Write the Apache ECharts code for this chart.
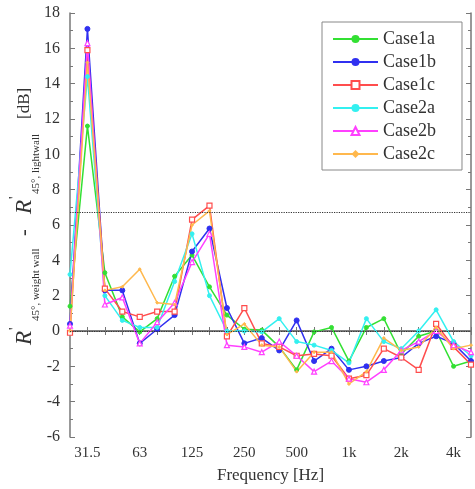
<!DOCTYPE html>
<html>
<head>
<meta charset="utf-8">
<script src="https://cdn.jsdelivr.net/npm/echarts@6/dist/echarts.min.js"></script>
<style>html,body{margin:0;padding:0;background:#fff}#c{width:475px;height:489px}</style>
</head>
<body>
<div id="c"></div>
<script>
const freqs = ['25','31.5','40','50','63','80','100','125','160','200','250','315','400','500','630','800','1k','1.25k','1.6k','2k','2.5k','3.15k','4k','5k'];
const shownTicks = ['31.5','63','125','250','500','1k','2k','4k'];
const yTicks = { min: -6, max: 18, step: 2 };
const refLines = [6.7, 0];

const case1a = [1.4, 11.6, 3.3, 0.8, -0.05, 0.7, 3.1, 4.3, 2.5, 0.9, 0.1, 0.05, -0.9, -2.2, -0.05, 0.2, -1.7, 0.2, 0.7, -1.3, -0.3, 0.0, -2.0, -1.7];
const case1b = [0.4, 17.1, 2.3, 2.3, -0.7, 0.1, 0.9, 4.5, 5.8, 1.3, -0.7, -0.4, -1.1, 0.6, -1.7, -1.0, -2.2, -2.0, -1.7, -1.5, -0.7, -0.3, -0.7, -1.7];
const case1c = [-0.1, 15.9, 2.4, 1.1, 0.8, 1.1, 1.1, 6.3, 7.1, -0.3, 1.3, -0.7, -0.9, -1.4, -1.3, -1.4, -2.7, -2.5, -1.0, -1.5, -2.2, 0.4, -0.9, -1.9];
const case2a = [3.2, 14.4, 2.0, 0.6, 0.2, 0.2, 2.8, 5.5, 2.0, 0.0, 0.0, -0.05, 0.7, -0.6, -0.8, -1.1, -1.8, 0.7, -0.6, -1.0, 0.0, 1.2, -0.6, -1.4];
const case2b = [0.3, 16.3, 1.5, 1.9, -0.7, 0.5, 1.6, 3.9, 5.5, -0.8, -0.9, -1.2, -0.6, -1.4, -2.3, -1.7, -2.7, -2.9, -2.2, -1.1, -0.6, 0.0, -0.8, -1.2];
const case2c = [0.0, 15.2, 2.3, 2.5, 3.5, 1.6, 1.5, 6.0, 6.8, -0.2, 0.4, -0.8, -0.9, -2.3, -1.2, -1.2, -3.0, -2.3, -0.4, -1.1, -0.9, 0.2, -1.0, -0.8];

const seriesNames = ['Case1a','Case1b','Case1c','Case2a','Case2b','Case2c'];
const seriesData = [case1a, case1b, case1c, case2a, case2b, case2c];
const colors = ['#33e033', '#3030f0', '#ff4d4d', '#33f0f0', '#ff40ff', '#ffb84d'];
const symbols = ['circle', 'circle', 'rect', 'circle', 'triangle', 'diamond'];
const symSizes = [4, 5, 5, 4, 5, 3];
const hollow = [false, false, true, false, true, false];

const FONT = 'Liberation Serif';
const chart = echarts.init(document.getElementById('c'), null, { renderer: 'canvas' });

const series = seriesNames.map((n, i) => ({
  name: n,
  type: 'line',
  data: seriesData[i],
  symbol: symbols[i],
  symbolSize: symSizes[i],
  showAllSymbol: true,
  lineStyle: { width: 1.5, color: colors[i] },
  itemStyle: hollow[i] ? { color: '#fff', borderColor: colors[i], borderWidth: 1.2 } : { color: colors[i], borderColor: colors[i] },
  color: colors[i],
  animation: false,
  z: 3
}));
series[0].markLine = {
  silent: true,
  symbol: 'none',
  label: { show: false },
  lineStyle: { type: 'dotted', color: '#333', width: 1.2 },
  data: refLines.map(v => ({ yAxis: v }))
};

const axisLineStyle = { color: '#777', width: 1.5 };
const xBase = {
  type: 'category',
  data: freqs,
  boundaryGap: false,
  axisLine: { show: true, lineStyle: axisLineStyle },
  axisTick: { show: true, inside: true, interval: 0, length: 4, lineStyle: { color: '#777' } },
  splitLine: { show: false }
};
const yBase = {
  type: 'value',
  min: yTicks.min, max: yTicks.max, interval: yTicks.step,
  axisLine: { show: true, lineStyle: axisLineStyle },
  axisTick: { show: true, inside: true, length: 5, lineStyle: { color: '#777' } },
  minorTick: { show: true, splitNumber: 2, length: 3, lineStyle: { color: '#777' } },
  splitLine: { show: false }
};

const rot = Math.PI / 2;
const tStyle = (txt, size, italic) => ({ text: txt, font: (italic ? 'italic ' : '') + size + 'px "' + FONT + '"', fill: '#333', textAlign: 'left', textVerticalAlign: 'middle' });

chart.setOption({
  backgroundColor: '#fff',
  animation: false,
  grid: { left: 70, right: 4, top: 13, bottom: 48, containLabel: false },
  legend: {
    orient: 'vertical',
    left: 322, top: 22,
    padding: [8, 26, 7, 10],
    itemWidth: 45, itemHeight: 10, itemGap: 5,
    backgroundColor: '#fff',
    borderColor: '#888', borderWidth: 1,
    textStyle: { fontFamily: FONT, fontSize: 18, color: '#333' },
    data: seriesNames
  },
  xAxis: [
    Object.assign({}, xBase, {
      position: 'bottom',
      name: 'Frequency [Hz]', nameLocation: 'middle', nameGap: 30,
      nameTextStyle: { fontFamily: FONT, fontSize: 17, color: '#333' },
      axisLabel: {
        show: true, margin: 9, fontFamily: FONT, fontSize: 15, color: '#333',
        interval: (idx, val) => shownTicks.indexOf(val) >= 0
      }
    }),
    Object.assign({}, xBase, { position: 'top', axisLabel: { show: false } })
  ],
  yAxis: [
    Object.assign({}, yBase, { position: 'left', axisLabel: { show: true, margin: 10, fontFamily: FONT, fontSize: 16, color: '#333' } }),
    Object.assign({}, yBase, { position: 'right', axisLabel: { show: false } })
  ],
  series: series,
  graphic: [
    { type: 'text', x: 25, y: 345, rotation: rot, style: tStyle('R', 23, true) },
    { type: 'text', x: 15, y: 330, rotation: rot, style: tStyle("'", 15, false) },
    { type: 'text', x: 36, y: 321, rotation: rot, style: tStyle('45°, weight wall', 11, false) },
    { type: 'text', x: 25, y: 236, rotation: rot, style: tStyle('-', 20, false) },
    { type: 'text', x: 25, y: 214, rotation: rot, style: tStyle('R', 23, true) },
    { type: 'text', x: 15, y: 199, rotation: rot, style: tStyle("'", 15, false) },
    { type: 'text', x: 36, y: 194, rotation: rot, style: tStyle('45°, lightwall', 11, false) },
    { type: 'text', x: 25, y: 119, rotation: rot, style: tStyle('[dB]', 17, false) }
  ]
});
</script>
</body>
</html>
